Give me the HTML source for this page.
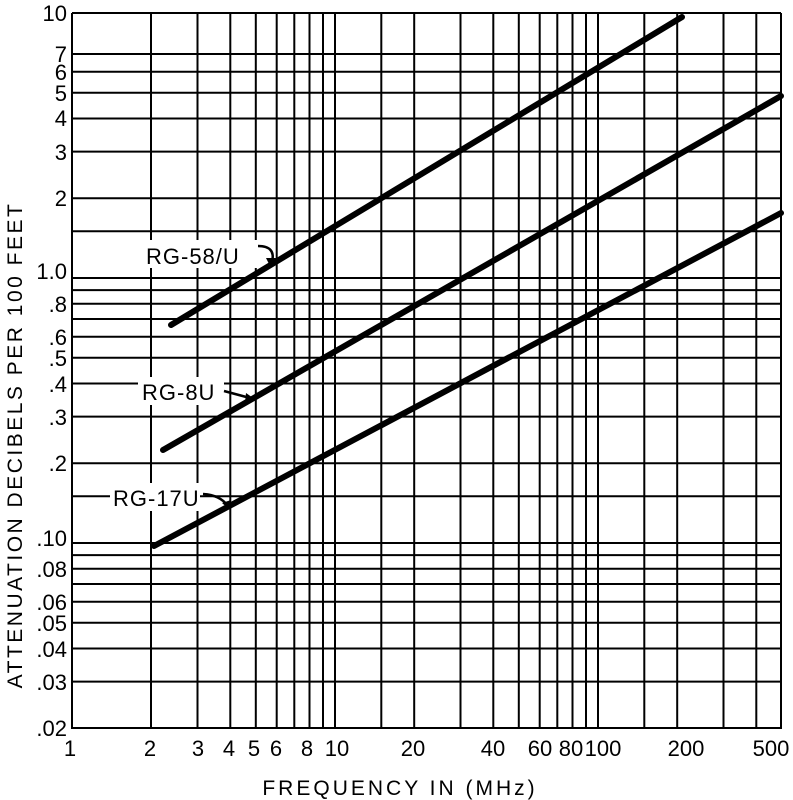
<!DOCTYPE html>
<html><head><meta charset="utf-8"><style>
html,body{margin:0;padding:0;background:#fff;}
svg{display:block;}
text{font-family:"Liberation Sans",sans-serif;fill:#000;}
</style></head><body>
<svg width="793" height="800" viewBox="0 0 793 800" xmlns="http://www.w3.org/2000/svg">
<path stroke="#000" stroke-width="2" fill="none" d="M72 13V729M151 13V729M197.5 13V729M230.3 13V729M255.8 13V729M276.7 13V729M294.3 13V729M309.5 13V729M323 13V729M335 13V729M381.3 13V729M414.2 13V729M460.5 13V729M493.3 13V729M518.8 13V729M539.7 13V729M557.3 13V729M572.5 13V729M586 13V729M598 13V729M644.3 13V729M677.2 13V729M723.5 13V729M756.3 13V729M781 13V729"/>
<path stroke="#000" stroke-width="2" fill="none" d="M72 13H781M72 54H781M72 71.8H781M72 92.8H781M72 118.5H781M72 151.6H781M72 198.2H781M72 231.3H781M72 278H781M72 290.1H781M72 303.7H781M72 319H781M72 336.8H781M72 357.8H781M72 383.5H781M72 416.6H781M72 463.2H781M72 496.3H781M72 543H781M72 555.1H781M72 568.7H781M72 584H781M72 601.8H781M72 622.8H781M72 648.5H781M72 681.6H781M72 728H781"/>
<rect x="142" y="240" width="116" height="28" fill="#fff"/>
<rect x="138" y="377" width="86" height="28" fill="#fff"/>
<rect x="110" y="483" width="90" height="28" fill="#fff"/>
<path stroke="#000" stroke-width="6" stroke-linecap="round" fill="none" d="M171 325L682 17M163 450L781 96M154 546L781 213"/>
<path stroke="#000" stroke-width="2.5" fill="none" d="M258 246Q276 246 272 262M224 391L250 398M203 494Q220 495 228 506"/>
<path fill="#000" d="M266 258L276 258L271 268ZM246 393L256 400L245 403ZM222 503L231 500L230 510Z"/>
<text font-size="22" letter-spacing="1"><tspan x="146" y="264">RG-58/U</tspan><tspan x="142" y="400">RG-8U</tspan><tspan x="113" y="506">RG-17U</tspan></text>
<text font-size="22" text-anchor="end"><tspan x="67" y="21">10</tspan><tspan x="67" y="62">7</tspan><tspan x="67" y="80">6</tspan><tspan x="67" y="101">5</tspan><tspan x="67" y="126">4</tspan><tspan x="67" y="160">3</tspan><tspan x="67" y="206">2</tspan><tspan x="67" y="279">1.0</tspan><tspan x="67" y="312">.8</tspan><tspan x="67" y="345">.6</tspan><tspan x="67" y="366">.5</tspan><tspan x="67" y="392">.4</tspan><tspan x="67" y="425">.3</tspan><tspan x="67" y="471">.2</tspan><tspan x="67" y="546">.10</tspan><tspan x="67" y="577">.08</tspan><tspan x="67" y="610">.06</tspan><tspan x="67" y="631">.05</tspan><tspan x="67" y="657">.04</tspan><tspan x="67" y="690">.03</tspan><tspan x="67" y="736">.02</tspan></text>
<text font-size="22" text-anchor="middle" y="756"><tspan x="70" y="756">1</tspan><tspan x="150" y="756">2</tspan><tspan x="198" y="756">3</tspan><tspan x="229" y="756">4</tspan><tspan x="254" y="756">5</tspan><tspan x="276" y="756">6</tspan><tspan x="307" y="756">8</tspan><tspan x="337" y="756">10</tspan><tspan x="413" y="756">20</tspan><tspan x="493" y="756">40</tspan><tspan x="540" y="756">60</tspan><tspan x="571" y="756">80</tspan><tspan x="603" y="756">100</tspan><tspan x="686" y="756">200</tspan><tspan x="771" y="756">500</tspan></text>
<text x="400" y="795" font-size="21" text-anchor="middle" letter-spacing="3">FREQUENCY IN (MHz)</text>
<text transform="translate(22,445) rotate(-90)" font-size="21" text-anchor="middle" letter-spacing="2.5">ATTENUATION DECIBELS PER 100 FEET</text>
</svg>
</body></html>
